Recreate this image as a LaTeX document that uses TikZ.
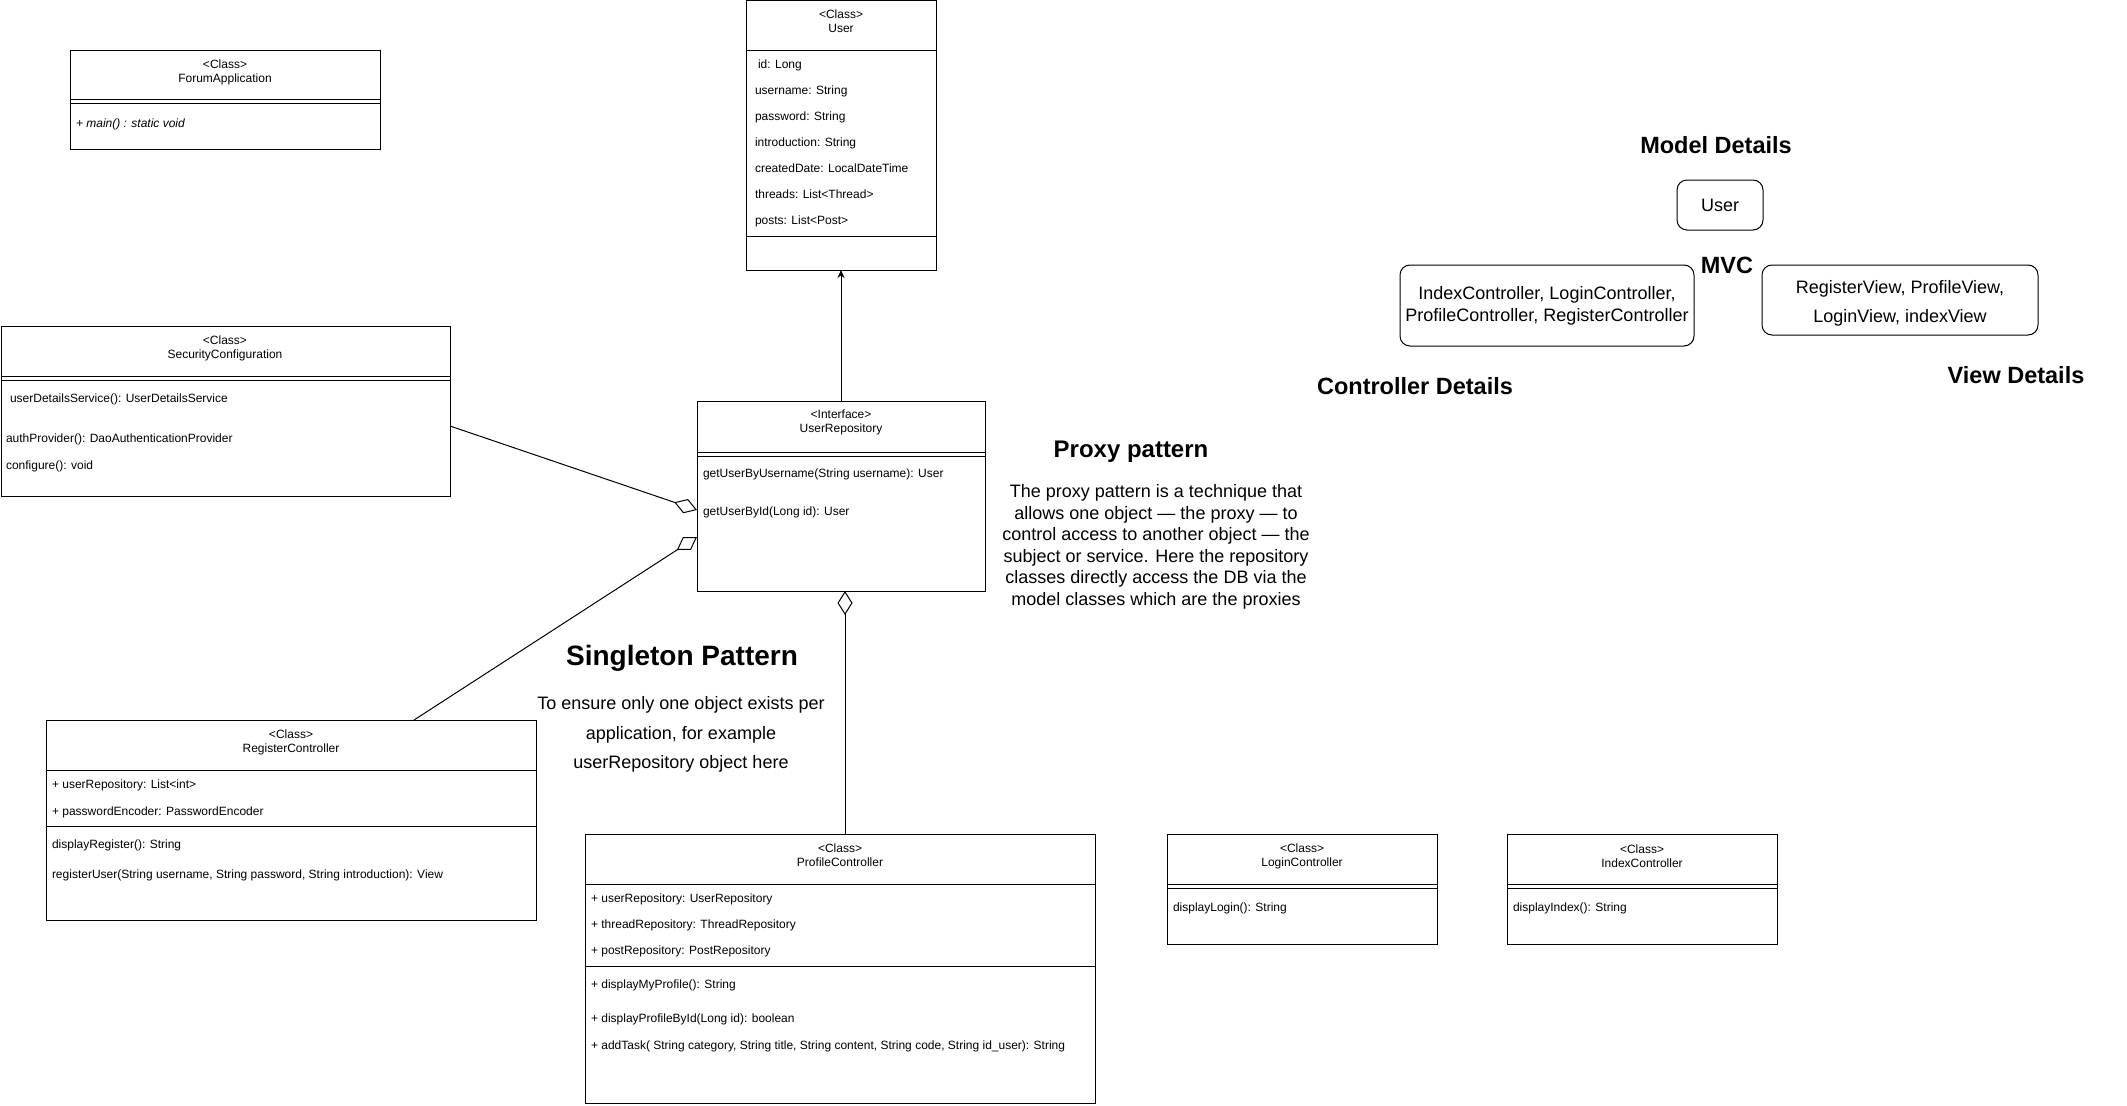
\documentclass[tikz,border=0pt]{standalone}
\usepackage{fontspec}
\setmainfont{Liberation Sans}
\usetikzlibrary{arrows.meta,calc}

\begin{document}
\begin{tikzpicture}[x=1pt,y=-1pt,
  every node/.style={inner sep=0pt, outer sep=0pt},
  umlbox/.style={draw, line width=1pt, rectangle, anchor=north west},
  sepline/.style={line width=1pt},
  classtitle/.style={font=\fontsize{12}{14}\selectfont, align=center, yshift=-1.5pt},
  member/.style={font=\fontsize{12}{14}\selectfont, anchor=mid west, yshift=-2.5pt},
  heading/.style={font=\fontsize{24}{28}\selectfont\bfseries},
  note/.style={font=\fontsize{18}{21.6}\selectfont, align=center},
  mvcbox/.style={draw, line width=1pt, rounded corners=10pt, anchor=north west},
  aggr/.style={line width=1pt, -{Diamond[open, length=24pt, width=15pt, line width=1pt]}},
  dep/.style={line width=1pt, -{Stealth[length=8pt, width=7pt]}}
]
\fill[white] (0,0) rectangle (2127,1105);
\useasboundingbox (0,0) rectangle (2127,1105);

% ---------- ForumApplication ----------
\node[umlbox, minimum width=310pt, minimum height=98pt] (fa) at (70,51) {};
\draw[sepline] (70,100) -- (380,100);
\draw[sepline] (70,104) -- (380,104);
\node[classtitle] (faT) at (225,71) {<Class>\\ForumApplication};
\node[member, font=\fontsize{12}{14}\selectfont\itshape] (faM1) at (76,122) {+ main() : static void};

% ---------- User ----------
\node[umlbox, minimum width=190pt, minimum height=269pt] (user) at (746,1) {};
\draw[sepline] (746,50.5) -- (936,50.5);
\draw[sepline] (746,236) -- (936,236);
\node[classtitle] (userT) at (841,20) {<Class>\\User};
\node[member] (userA1) at (758,63.5) {id: Long};
\node[member] (userA2) at (755,89.5) {username: String};
\node[member] (userA3) at (755,115.5) {password: String};
\node[member] (userA4) at (755,141) {introduction: String};
\node[member] (userA5) at (755,167) {createdDate: LocalDateTime};
\node[member] (userA6) at (755,193.5) {threads: List<Thread>};
\node[member] (userA7) at (755,219.5) {posts: List<Post>};

% ---------- SecurityConfiguration ----------
\node[umlbox, minimum width=449pt, minimum height=170pt] (sec) at (1,326) {};
\draw[sepline] (1,376) -- (450,376);
\draw[sepline] (1,380) -- (450,380);
\node[classtitle] (secT) at (225,347) {<Class>\\SecurityConfiguration};
\node[member] (secM1) at (10,397.5) {userDetailsService(): UserDetailsService};
\node[member] (secM2) at (6,437) {authProvider(): DaoAuthenticationProvider};
\node[member] (secM3) at (6,464) {configure(): void};

% ---------- UserRepository ----------
\node[umlbox, minimum width=288pt, minimum height=190pt] (repo) at (697,401) {};
\draw[sepline] (697,452) -- (985,452);
\draw[sepline] (697,456) -- (985,456);
\node[classtitle] (repoT) at (841,421) {<Interface>\\UserRepository};
\node[member] (repoM1) at (703,472.5) {getUserByUsername(String username): User};
\node[member] (repoM2) at (703,510.5) {getUserById(Long id): User};

% ---------- RegisterController ----------
\node[umlbox, minimum width=490pt, minimum height=200pt] (reg) at (46,720) {};
\draw[sepline] (46,770) -- (536,770);
\draw[sepline] (46,826) -- (536,826);
\node[classtitle] (regT) at (291,741) {<Class>\\RegisterController};
\node[member] (regA1) at (52,783) {+ userRepository: List<int>};
\node[member] (regA2) at (52,810) {+ passwordEncoder: PasswordEncoder};
\node[member] (regM1) at (52,843.5) {displayRegister(): String};
\node[member] (regM2) at (52,873.5) {registerUser(String username, String password, String introduction): View};

% ---------- ProfileController ----------
\node[umlbox, minimum width=510pt, minimum height=269pt] (prof) at (585,834) {};
\draw[sepline] (585,884) -- (1095,884);
\draw[sepline] (585,966) -- (1095,966);
\node[classtitle] (profT) at (840,854) {<Class>\\ProfileController};
\node[member] (profA1) at (591,897) {+ userRepository: UserRepository};
\node[member] (profA2) at (591,923.5) {+ threadRepository: ThreadRepository};
\node[member] (profA3) at (591,949.5) {+ postRepository: PostRepository};
\node[member] (profM1) at (591,983.5) {+ displayMyProfile(): String};
\node[member] (profM2) at (591,1017) {+ displayProfileById(Long id): boolean};
\node[member] (profM3) at (591,1044) {+ addTask( String category, String title, String content, String code, String id\_user): String};

% ---------- LoginController ----------
\node[umlbox, minimum width=270pt, minimum height=110pt] (login) at (1167,834) {};
\draw[sepline] (1167,884) -- (1437,884);
\draw[sepline] (1167,888) -- (1437,888);
\node[classtitle] (loginT) at (1302,855) {<Class>\\LoginController};
\node[member] (loginM1) at (1173,906) {displayLogin(): String};

% ---------- IndexController ----------
\node[umlbox, minimum width=270pt, minimum height=110pt] (index) at (1507,834) {};
\draw[sepline] (1507,884) -- (1777,884);
\draw[sepline] (1507,888) -- (1777,888);
\node[classtitle] (indexT) at (1642,855) {<Class>\\IndexController};
\node[member] (indexM1) at (1513,906) {displayIndex(): String};

% ---------- Relations ----------
\draw[dep] (repo) -- (user);
\draw[aggr] ($(sec.north east)+(0,100)$) -- ($(repo.north west)+(0,109)$);
\draw[aggr] ($(reg.north west)+(368,0)$) -- ($(repo.north west)+(0,136)$);
\draw[aggr] ($(prof.north west)+(260,0)$) -- ($(repo.south west)+(148,0)$);

% ---------- Pattern notes ----------
\node[heading, font=\fontsize{28}{32}\selectfont\bfseries] (singH) at (682,658.5) {Singleton Pattern};
\node[note, font=\fontsize{18}{29.5}\selectfont] (singB) at (681,734.5) {To ensure only one object exists per\\application, for example\\userRepository object here};

\node[heading] (proxyH) at (1131,452) {Proxy pattern};
\node[note, font=\fontsize{18}{21.5}\selectfont] (proxyB) at (1156,547) {The proxy pattern is a technique that\\allows one object — the proxy — to\\control access to another object — the\\subject or service. Here the repository\\classes directly access the DB via the\\model classes which are the proxies};

% ---------- MVC overview ----------
\node[heading, font=\fontsize{23.5}{28}\selectfont\bfseries] (modelH) at (1716,145) {Model Details};
\node[mvcbox, minimum width=86pt, minimum height=50pt] (modelBox) at (1677,180) {};
\node[note] (modelTxt) at (modelBox.center) {User};

\node[heading, font=\fontsize{23.5}{28}\selectfont\bfseries] (mvcH) at (1727,265) {MVC};

\node[mvcbox, minimum width=294pt, minimum height=81pt] (ctrlBox) at (1400,265) {};
\node[note, font=\fontsize{18}{22}\selectfont] (ctrlTxt) at (ctrlBox.center) {IndexController, LoginController,\\ProfileController, RegisterController};
\node[heading, font=\fontsize{23.5}{28}\selectfont\bfseries] (ctrlH) at (1415,386) {Controller Details};

\node[mvcbox, minimum width=276pt, minimum height=70pt] (viewBox) at (1762,265) {};
\node[note, font=\fontsize{18}{29}\selectfont] (viewTxt) at ($(viewBox.center)+(0,3)$) {RegisterView, ProfileView,\\LoginView, indexView};
\node[heading, font=\fontsize{23.5}{28}\selectfont\bfseries] (viewH) at (2016,375) {View Details};
\end{tikzpicture}
\end{document}
